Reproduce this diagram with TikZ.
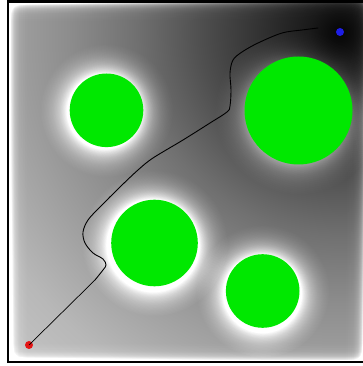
\documentclass[tikz,border=0pt]{standalone}
\definecolor{obsgreen}{RGB}{0,232,0}
\definecolor{startred}{RGB}{228,20,20}
\definecolor{goalblue}{RGB}{30,30,230}
% TikZ maps a path's bounding box onto the central 50bp x 50bp of a shading
% background potential field around the goal (25bp = circle edge, radius 480pt)
\pgfdeclareradialshading{field}{\pgfpointorigin}{rgb(0bp)=(.02,.02,.02); rgb(1.56bp)=(.1,.1,.1); rgb(7.29bp)=(.31,.31,.31); rgb(10.6bp)=(.44,.44,.44); rgb(14.06bp)=(.55,.55,.55); rgb(20.8bp)=(.72,.72,.72); rgb(25bp)=(.78,.78,.78); rgb(50bp)=(.78,.78,.78)}
% glow along the walls (25bp = wall, 75bp = inner side)
\pgfdeclarehorizontalshading{edgeglow}{100bp}{rgb(0bp)=(.45,.45,.45); rgb(25bp)=(.45,.45,.45); rgb(31bp)=(.3,.3,.3); rgb(40bp)=(.15,.15,.15); rgb(52.5bp)=(.05,.05,.05); rgb(75bp)=(0,0,0); rgb(100bp)=(0,0,0)}
% glow around an obstacle of radius #2, glow width #3
\newcommand\mkhalo[3]{%
  \pgfmathsetmacro\hR{#2+#3}%
  \pgfmathsetmacro\ha{25*#2/\hR}%
  \pgfmathsetmacro\hb{25*(#2+0.15*#3)/\hR}%
  \pgfmathsetmacro\hc{25*(#2+0.35*#3)/\hR}%
  \pgfmathsetmacro\hd{25*(#2+0.6*#3)/\hR}%
  \pgfmathsetmacro\he{25*(#2+0.8*#3)/\hR}%
  \edef\hTemp{\noexpand\pgfdeclareradialshading{#1}{\noexpand\pgfpointorigin}{rgb(0bp)=(.5,.5,.5); rgb(\ha bp)=(.5,.5,.5); rgb(\hb bp)=(.4,.4,.4); rgb(\hc bp)=(.27,.27,.27); rgb(\hd bp)=(.14,.14,.14); rgb(\he bp)=(.06,.06,.06); rgb(25bp)=(0,0,0); rgb(50bp)=(0,0,0)}}%
  \hTemp}
\mkhalo{haloA}{36.8}{30}
\mkhalo{haloB}{54}{30}
\mkhalo{haloC}{43.3}{30}
\mkhalo{haloD}{36.8}{30}
\begin{document}
\begin{tikzpicture}[x=1pt,y=1pt,
  obst/.style={circle, fill=obsgreen, draw=none, inner sep=0pt, outer sep=0pt},
  endpt/.style={circle, inner sep=0pt, outer sep=0pt, minimum size=8pt, draw=none},
  route/.style={black, line width=0.9pt, line join=round, line cap=round},
  framestyle/.style={black, line width=2.4pt}]
\useasboundingbox (0,0) rectangle (363,366);
\fill[white] (0,0) rectangle (363,366);
\coordinate (goal) at (340,334);
\coordinate (cA) at (106.5,255.7);
\coordinate (cB) at (298.5,255.5);
\coordinate (cC) at (154.5,123);
\coordinate (cD) at (262.7,75);
\begin{scope}
  \clip (9,5) rectangle (363,363);
  \shade[shading=field] (goal) circle (480pt);
  \begin{scope}[blend mode=color dodge]
    \shade[shading=haloA] (cA) circle (66.8pt);
    \shade[shading=haloB] (cB) circle (84pt);
    \shade[shading=haloC] (cC) circle (73.3pt);
    \shade[shading=haloD] (cD) circle (66.8pt);
    \shade[shading=edgeglow] (9,5) rectangle (27,363);
    \shade[shading=edgeglow, shading angle=180] (345,5) rectangle (363,363);
    \shade[shading=edgeglow, shading angle=90] (9,5) rectangle (363,23);
    \shade[shading=edgeglow, shading angle=270] (9,345) rectangle (363,363);
  \end{scope}
\end{scope}
\node[obst, minimum size=73.6pt] (obsA) at (cA) {};
\node[obst, minimum size=108pt] (obsB) at (cB) {};
\node[obst, minimum size=86.6pt] (obsC) at (cC) {};
\node[obst, minimum size=73.6pt] (obsD) at (cD) {};
\node[endpt, fill=startred] (start) at (29,21) {};
\node[endpt, fill=goalblue] (goalpt) at (goal) {};
\draw[route, line width=0.7pt] (start.center) -- (95,86);
\draw[route] plot[smooth, tension=0.55] coordinates {(95,86) (103,96) (106,101) (103,107) (93,113) (85,123) (83,134) (88,146) (100,159) (120,179) (138,196) (153,208) (183,226) (210,243) (227,254) (230,260) (231,276) (230,293) (233,306) (242,314) (258,323) (282,333) (302,336) (318,338)};
\draw[framestyle] (366,4) -- (8,4) -- (8,364.5) -- (366,364.5);
\end{tikzpicture}
\end{document}
